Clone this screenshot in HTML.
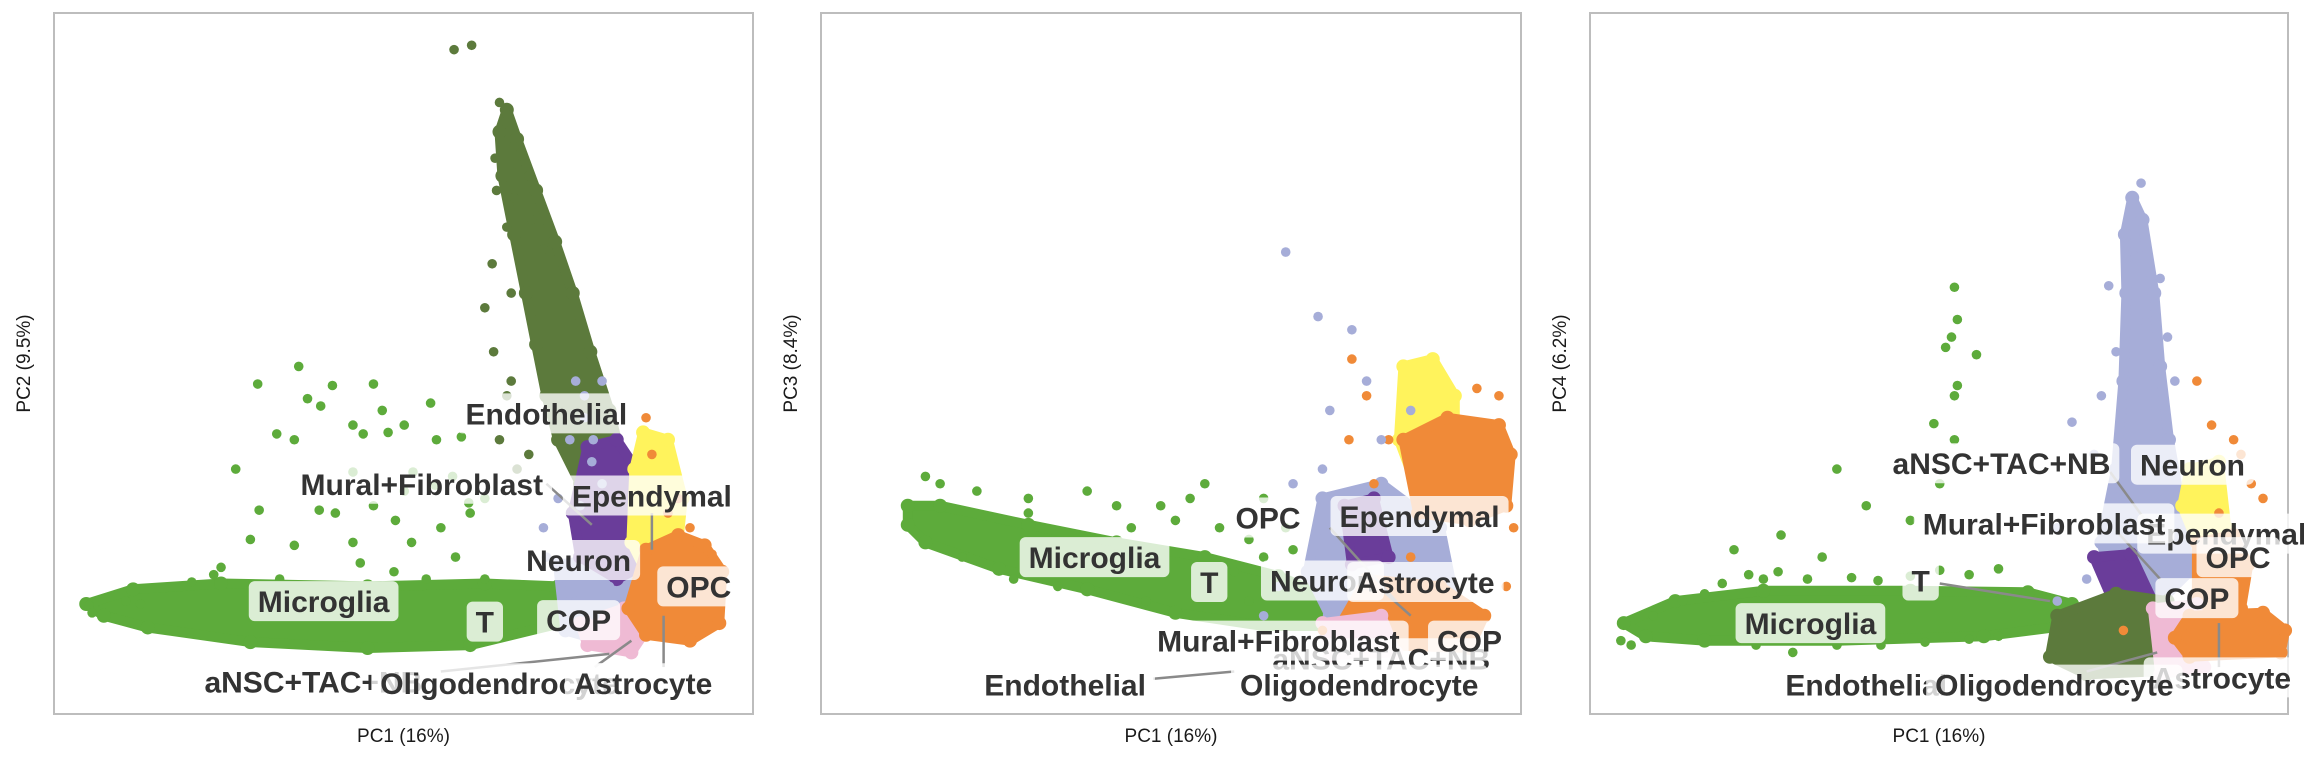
<!DOCTYPE html>
<html><head><meta charset="utf-8"><style>
html,body{margin:0;padding:0;background:#fff;}
svg{display:block;font-family:"Liberation Sans",sans-serif;}
</style></head><body>
<svg id="chart" width="2304" height="768" viewBox="0 0 2304 768" xmlns="http://www.w3.org/2000/svg"></svg>
<script>
// Data values are PC scores in arbitrary units (per-panel domains below)
const panelTitles = ["PC2 (9.5%)","PC3 (8.4%)","PC4 (6.2%)"];
const xTitle = "PC1 (16%)";
const xDomains = [[36,513],[559,1035],[1082,1557]];
const yDomain = [487,9];
const colors = {Microglia:"#5dab3b",Endothelial:"#5c7a3c",Neuron:"#a6add8",Purple:"#6a3d9a",Ependymal:"#fff35c",OPC:"#f08a38",Astrocyte:"#efbad4",Teal:"#4aa39b"};

// ---------- Panel 1 (PC1 vs PC2) ----------
const p1Hulls = [
 ["Microglia",[[58,412],[90,402],[150,398],[250,400],[330,398],[380,400],[382,425],[320,440],[250,442],[170,438],[100,428],[70,420]]],
 ["Endothelial",[[345,75],[352,95],[365,130],[378,165],[390,200],[402,240],[415,280],[425,320],[415,335],[395,330],[380,300],[372,270],[365,235],[358,200],[350,160],[342,120],[340,90]]],
 ["Neuron",[[380,385],[420,380],[440,420],[420,440],[385,430]]],
 ["Purple",[[400,305],[420,300],[440,330],[440,385],[420,395],[395,380],[390,350]]],
 ["Ependymal",[[438,295],[455,300],[465,340],[460,390],[445,400],[430,370],[432,320]]],
 ["Astrocyte",[[395,425],[425,415],[440,430],[430,445],[400,440]]],
 ["OPC",[[440,375],[462,365],[480,372],[492,390],[490,425],[470,437],[440,433],[428,415]]]
];
const p1MicrogliaX = [203,175,226,254,209,218,188,247,240,200,264,297,314,293,260,275,281,319,240,160,176,217,228,254,269,280,300,310,320,330,240,200,170,190,150,130,268,290,245,296,308,275,330,145,85,95,60,62];
const p1MicrogliaY = [250,262,263,262,272,277,296,296,290,300,295,300,298,275,280,290,322,343,322,320,348,348,350,345,355,370,360,380,350,395,370,372,368,395,387,397,390,395,384,331,325,335,340,392,410,412,413,418];
const p1EndoX = [309,321,340,345,350,337,352,360,338,350,362,345,370,335,348,330,336,348,345,340,352,360];
const p1EndoY = [34,31,70,78,100,108,112,120,130,135,150,155,170,180,200,210,240,260,270,300,320,310];
const p1NeuronX = [392,398,404,410,395,380,370,372,385,392,405,415,398,403,388,410];
const p1NeuronY = [260,285,300,330,345,340,360,380,395,410,420,400,270,315,300,260];
const p1OpcX = [440,444,462,470,485,492,455];
const p1OpcY = [285,310,340,360,378,395,350];
const p1Labels = [["Endothelial",372,282],["Mural+Fibroblast",287,330],["Ependymal",444,338],["Neuron",394,382],["OPC",476,400],["Microglia",220,410],["T",330,424],["COP",394,423],["aNSC+TAC+NB",213,465],["Oligodendrocyte",340,466],["Astrocyte",438,466]];
const p1Arrows = [[372,330,403,358],[444,350,444,375],[452,455,452,420],[405,455,430,437],[300,458,415,446]];

// ---------- Panel 2 (PC1 vs PC3) ----------
const p2Hulls = [
 ["Microglia",[[618,345],[640,345],[700,358],[760,370],[820,380],[870,393],[905,408],[900,427],[860,427],[800,418],[740,402],[680,388],[630,370],[618,358]]],
 ["Neuron",[[900,340],[940,330],[980,360],[990,410],[950,430],[905,420],[890,390]]],
 ["Purple",[[915,345],[935,340],[945,380],[920,385]]],
 ["OPC",[[930,395],[980,400],[1010,420],[1000,442],[940,440],[910,430]]],
 ["Astrocyte",[[900,425],[940,420],[950,445],[905,447]]],
 ["Ependymal",[[955,250],[975,245],[990,270],[990,330],[965,335],[952,300]]],
 ["OPC",[[955,300],[985,285],[1020,290],[1028,310],[1025,345],[1000,355],[965,350]]]
];
const p2MicrogliaX = [630,640,665,700,740,760,790,800,810,830,850,860,840,880,780,720,690,850,820,770,700,655,880,875,860,820];
const p2MicrogliaY = [325,330,335,340,335,345,345,355,340,360,368,380,390,400,410,400,395,410,400,360,350,380,375,360,340,330];
const p2OpcX = [920,930,945,918,935,1005,1020,1030,960,990,1025,900];
const p2OpcY = [245,270,300,300,330,265,270,360,380,410,400,430];
const p2NeuronX = [875,897,920,905,930,960,940,880,900,870,860];
const p2NeuronY = [172,216,225,280,260,280,300,330,320,400,420];
const p2Labels = [["Microglia",745,380],["T",823,397],["OPC",863,353],["Ependymal",966,352],["Neuron",900,396],["Astrocyte",970,397],["aNSC+TAC+NB",940,449],["Mural+Fibroblast",870,437],["COP",1000,437],["Endothelial",725,467],["Oligodendrocyte",925,467]];
const p2Arrows = [[785,463,840,458],[905,360,950,410],[940,402,960,420]];

// ---------- Panel 3 (PC1 vs PC4) ----------
const p3Hulls = [
 ["Microglia",[[1105,425],[1140,410],[1200,403],[1300,403],[1380,404],[1410,412],[1405,427],[1350,434],[1250,437],[1160,437],[1120,434]]],
 ["Neuron",[[1451,135],[1458,150],[1466,200],[1470,250],[1476,300],[1485,350],[1490,390],[1470,410],[1440,405],[1430,370],[1440,320],[1445,260],[1447,200],[1446,160]]],
 ["Purple",[[1425,380],[1450,378],[1465,410],[1440,415]]],
 ["Ependymal",[[1490,320],[1510,315],[1515,360],[1495,370],[1485,345]]],
 ["OPC",[[1495,370],[1520,365],[1530,385],[1525,415],[1495,415]]],
 ["Endothelial",[[1400,420],[1440,405],[1475,410],[1485,440],[1465,458],[1420,460],[1395,448]]],
 ["Astrocyte",[[1465,415],[1495,412],[1500,455],[1470,460]]],
 ["OPC",[[1490,420],[1540,418],[1555,430],[1552,445],[1490,448],[1480,435]]]
];
const p3MicrogliaX = [1103,1110,1125,1145,1160,1172,1190,1210,1230,1260,1278,1300,1320,1340,1360,1195,1220,1250,1280,1310,1340,1360,1330,1332,1328,1324,1345,1332,1330,1316,1250,1320,1270,1300,1240,1200,1180,1330,1212];
const p3MicrogliaY = [437,440,420,410,405,398,392,390,395,394,396,393,389,392,388,440,445,440,440,438,436,434,196,218,230,237,242,263,270,289,320,330,345,355,380,395,375,300,365];
const p3NeuronX = [1457,1453,1435,1470,1460,1445,1430,1410,1425,1400,1480,1475,1440,1420,1400];
const p3NeuronY = [125,175,195,190,220,285,270,288,310,360,260,230,240,395,410];
const p3OpcX = [1495,1505,1520,1525,1532,1540,1510,1445];
const p3OpcY = [260,290,300,310,330,340,350,430];
const p3Labels = [["aNSC+TAC+NB",1362,316],["Neuron",1492,317],["Ependymal",1515,364],["Mural+Fibroblast",1391,357],["OPC",1523,380],["COP",1495,408],["T",1307,396],["Microglia",1232,425],["Endothelial",1270,467],["Astrocyte",1512,462],["Oligodendrocyte",1398,467]];
const p3Arrows = [[1320,398,1395,410],[1436,322,1460,355],[1440,362,1470,395],[1420,458,1468,445],[1510,455,1510,425]];

const panelBoxes = [{left:54,top:13,w:699,h:701},{left:821,top:13,w:700,h:701},{left:1590,top:13,w:698,h:701}];
const svg = document.getElementById('chart');
const NS = "http://www.w3.org/2000/svg";
function mk(tag, attrs, parent){const e=document.createElementNS(NS,tag);for(const k in attrs)e.setAttribute(k,attrs[k]);(parent||svg).appendChild(e);return e;}

const panels = [
 {hulls:p1Hulls,pts:[["Microglia",p1MicrogliaX,p1MicrogliaY],["Endothelial",p1EndoX,p1EndoY],["Neuron",p1NeuronX,p1NeuronY],["OPC",p1OpcX,p1OpcY]],labels:p1Labels,arrows:p1Arrows},
 {hulls:p2Hulls,pts:[["Microglia",p2MicrogliaX,p2MicrogliaY],["OPC",p2OpcX,p2OpcY],["Neuron",p2NeuronX,p2NeuronY]],labels:p2Labels,arrows:p2Arrows},
 {hulls:p3Hulls,pts:[["Microglia",p3MicrogliaX,p3MicrogliaY],["Neuron",p3NeuronX,p3NeuronY],["OPC",p3OpcX,p3OpcY]],labels:p3Labels,arrows:p3Arrows}
];

panels.forEach((P,i)=>{
  const b = panelBoxes[i], xd = xDomains[i];
  const sx = v => b.left + (v - xd[0])/(xd[1]-xd[0])*b.w;
  const sy = v => b.top + (v - yDomain[1])/(yDomain[0]-yDomain[1])*b.h;
  const g = mk('g',{});
  
  
  const frame = mk('rect',{x:b.left,y:b.top,width:b.w,height:b.h,fill:'#fff',stroke:'#bdbdbd','stroke-width':2},g);
  
  
  P.hulls.forEach(h=>{
    const d = h[1].map((p,k)=>(k?'L':'M')+sx(p[0]).toFixed(1)+','+sy(p[1]).toFixed(1)).join('')+'Z';
    const path = mk('path',{d:d,fill:colors[h[0]],stroke:colors[h[0]],'stroke-width':10,'stroke-linejoin':'round'},g);
    
    
    h[1].forEach(p=>{
      const c = mk('circle',{cx:sx(p[0]),cy:sy(p[1]),r:7,fill:colors[h[0]]},g);
      
      
    });
  });
  P.pts.forEach(s=>{
    s[1].forEach((xv,k)=>{
      const c = mk('circle',{cx:sx(xv),cy:sy(s[2][k]),r:4.8,fill:colors[s[0]]},g);
      
      
    });
  });
  P.arrows.forEach(a=>{
    const l = mk('line',{x1:sx(a[0]),y1:sy(a[1]),x2:sx(a[2]),y2:sy(a[3]),stroke:'#8a8a8a','stroke-width':2.5},g);
    
    
  });
  P.labels.forEach(L=>{
    const lg = mk('g',{},g);
    
    
    const r = mk('rect',{fill:'#fff','fill-opacity':0.78,rx:6},lg);
    const t = mk('text',{x:sx(L[1]),y:sy(L[2])+11,'text-anchor':'middle','font-size':30,'font-weight':'bold',fill:'#333'},lg);
    t.textContent = L[0];
    const w = t.getComputedTextLength();
    r.setAttribute('x',sx(L[1])-w/2-9);r.setAttribute('y',sy(L[2])-20);
    r.setAttribute('width',w+18);r.setAttribute('height',40);
  });
  const xt = mk('text',{x:b.left+b.w/2,y:742,'text-anchor':'middle','font-size':19,fill:'#1a1a1a'});
  xt.textContent = xTitle;
  
  
  const yx = b.left-24, yy = b.top+b.h/2;
  const yt = mk('text',{x:yx,y:yy,'text-anchor':'middle','font-size':19,fill:'#1a1a1a',transform:'rotate(-90 '+yx+' '+yy+')'});
  yt.textContent = panelTitles[i];
  
  
});
</script>
</body></html>
